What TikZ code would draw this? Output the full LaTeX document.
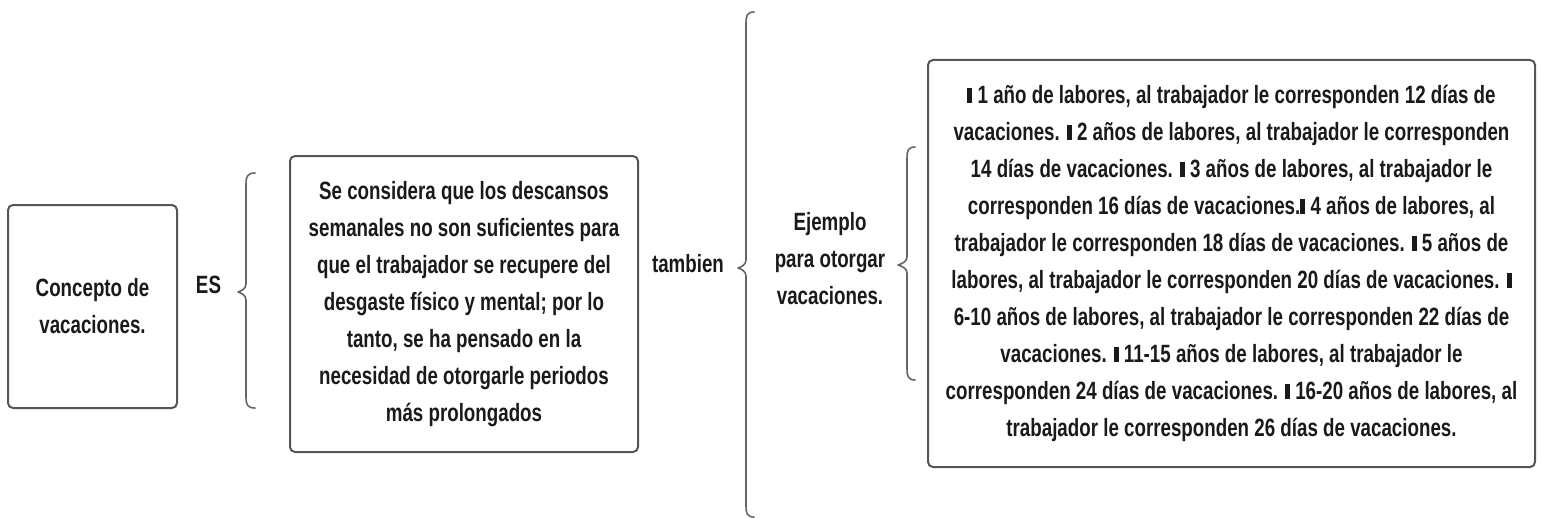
\documentclass[tikz,border=0pt]{standalone}
\usepackage{fontspec}
\setmainfont{Liberation Sans}[FakeStretch=0.75]
\definecolor{boxgray}{HTML}{555555}
\definecolor{bracegray}{HTML}{666666}
\definecolor{textblack}{HTML}{1A1A1A}
\newcommand\fs{\fontsize{25}{37}\selectfont\bfseries}
\newcommand\blk{\rule[0.5pt]{5pt}{15pt}}
\begin{document}
\begin{tikzpicture}[x=1pt,y=-1pt,
  box/.style={draw=boxgray, line width=2pt, rounded corners=5pt, align=center, inner sep=0pt, text=textblack, font=\fs},
  txt/.style={text=textblack, align=center, inner sep=0pt, font=\fs},
  brc/.style={draw=bracegray, line width=1.6pt, line cap=round, line join=round}]
\useasboundingbox (0,0) rectangle (1543,519);
\fill[white] (0,0) rectangle (1543,519);

\node[box, minimum width=169pt, minimum height=203pt] (concepto) at (92.5,306.5)
  {Concepto de\\vacaciones.};

\node[txt] (es) at (208.5,284.5) {ES};

\draw[brc] (255,173) .. controls (247,173) and (246,177) .. (246,184) -- (246,284)
  .. controls (246,289) and (241,291) .. (238,292)
  .. controls (241,293) and (246,295) .. (246,300) -- (246,397)
  .. controls (246,404) and (247,408) .. (255,408);

\node[box, minimum width=348pt, minimum height=296pt] (definicion) at (464,304)
  {Se considera que los descansos\\
   semanales no son suficientes para\\
   que el trabajador se recupere del\\
   desgaste físico y mental; por lo\\
   tanto, se ha pensado en la\\
   necesidad de otorgarle periodos\\
   más prolongados};

\node[txt] (tambien) at (688,264) {tambien};

\draw[brc] (754,12) .. controls (747,12) and (746,16) .. (746,23) -- (746,260)
  .. controls (746,265) and (741,267) .. (738,268)
  .. controls (741,269) and (746,271) .. (746,276) -- (746,506)
  .. controls (746,513) and (747,517) .. (754,517);

\node[txt] (ejemplo) at (830,259) {Ejemplo\\para otorgar\\vacaciones.};

\draw[brc] (915,147) .. controls (908,147) and (907,151) .. (907,158) -- (907,257)
  .. controls (907,262) and (901,264) .. (898,265)
  .. controls (901,266) and (907,268) .. (907,273) -- (907,369)
  .. controls (907,376) and (908,380) .. (915,380);

\node[box, minimum width=607pt, minimum height=407pt] (ejemplos) at (1231.5,263.5)
  {\blk{} 1 año de labores, al trabajador le corresponden 12 días de\\
   vacaciones. \blk{} 2 años de labores, al trabajador le corresponden\\
   14 días de vacaciones. \blk{} 3 años de labores, al trabajador le\\
   corresponden 16 días de vacaciones.\blk{} 4 años de labores, al\\
   trabajador le corresponden 18 días de vacaciones. \blk{} 5 años de\\
   labores, al trabajador le corresponden 20 días de vacaciones. \blk\\
   6-10 años de labores, al trabajador le corresponden 22 días de\\
   vacaciones. \blk{} 11-15 años de labores, al trabajador le\\
   corresponden 24 días de vacaciones. \blk{} 16-20 años de labores, al\\
   trabajador le corresponden 26 días de vacaciones.};
\end{tikzpicture}
\end{document}
